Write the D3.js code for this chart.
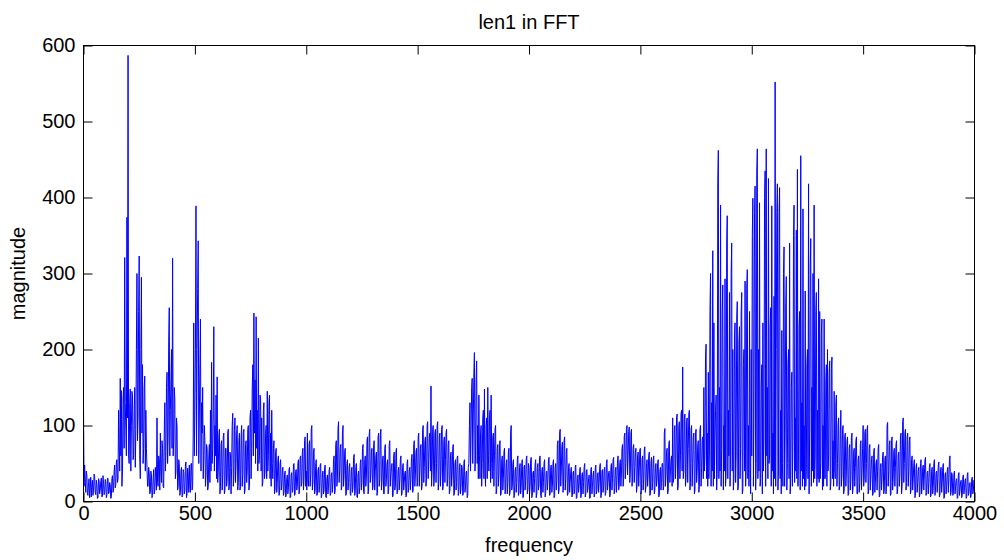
<!DOCTYPE html>
<meta charset="utf-8" />
<head>
  <style>
    body { margin: 0; background: #fff; }
    text { font-family: Arial, "Liberation Sans", sans-serif; fill: #000; }
    .trace { fill: none; stroke: #0000ff; stroke-width: 1; }
    .frame { fill: none; stroke: #000; stroke-width: 1; }
  </style>
  <script src="https://cdn.jsdelivr.net/npm/d3@7"></script>
</head>
<body>
<script>
  // spectrum sampled every 2.5 Hz, 0..4000 Hz (one row = 100 Hz)
  var freqStep = 2.5;
  var magnitude = [
    125,20,48,30,12,40,35,10,8,25,30,5,18,32,6,22,28,8,14,36,33,12,9,28,22,4,5,30,27,10,15,26,31,6,7,34,24,9,12,29,
    26,5,8,31,30,10,12,25,22,4,6,30,34,12,15,40,48,18,22,52,55,25,30,120,75,40,162,60,146,20,40,135,150,70,321,130,95,60,374,110,
    587,60,50,130,148,40,100,145,140,55,60,120,150,45,95,200,300,80,110,250,323,60,30,200,295,90,180,50,70,150,165,40,120,70,45,20,20,45,38,10,
    12,40,35,5,8,30,42,10,15,45,30,15,110,25,20,60,55,15,90,40,25,80,70,20,18,90,130,40,60,150,170,50,85,210,255,60,120,160,200,70,
    320,60,80,150,135,30,40,110,98,15,20,55,50,8,12,40,45,6,8,42,38,10,15,48,52,5,10,44,35,12,48,20,12,50,50,15,20,90,235,60,
    120,200,389,60,200,280,343,50,110,180,240,40,130,90,150,30,60,100,80,20,35,75,70,15,20,60,75,25,120,40,183,50,70,120,230,40,100,60,140,30,
    164,25,40,85,95,10,20,75,80,15,35,85,90,10,15,70,70,20,30,90,95,15,20,65,60,10,45,100,116,20,30,95,110,25,50,90,100,15,25,80,
    90,15,20,85,100,20,35,90,95,10,15,75,80,25,40,95,100,15,20,110,120,30,70,150,180,60,248,90,160,50,243,70,120,40,215,50,60,140,135,40,
    110,20,25,120,130,30,40,90,100,30,145,40,60,130,140,30,90,20,120,50,30,70,80,10,15,65,70,12,25,55,60,8,10,50,55,15,20,40,45,8,
    12,35,40,6,8,30,35,10,18,42,45,5,6,35,38,12,15,48,50,8,10,40,42,15,20,50,55,10,15,58,60,20,25,65,70,15,30,80,85,20,
    40,15,90,25,20,75,80,20,35,95,100,15,25,65,70,10,15,50,55,8,10,40,45,12,20,48,50,5,8,35,40,10,15,45,48,6,5,30,35,10,
    20,40,45,8,10,35,38,12,25,55,60,10,15,75,80,20,30,95,105,25,40,70,75,15,20,90,100,20,35,65,70,8,10,50,55,15,25,45,50,10,
    8,40,45,12,20,58,62,8,12,45,50,6,5,35,40,10,18,50,55,15,25,70,75,12,10,55,60,20,30,80,85,10,15,88,95,25,35,65,70,15,
    20,75,80,15,40,60,65,8,12,85,90,20,30,88,95,15,25,55,60,10,10,70,75,20,30,50,55,10,15,75,80,20,35,45,50,6,8,60,65,15,
    20,65,70,10,12,40,45,15,30,55,60,8,10,45,50,15,25,38,40,6,8,50,55,12,18,40,45,15,30,58,62,12,15,75,80,20,35,65,70,20,
    25,85,90,20,40,70,75,15,20,95,100,25,45,80,85,20,30,100,105,30,55,85,90,40,152,20,40,95,100,20,30,90,95,25,50,100,105,15,25,85,
    90,20,40,95,100,15,20,80,85,25,55,90,95,20,30,75,80,10,15,60,65,20,35,70,75,8,10,50,55,15,25,58,60,8,12,45,50,10,20,48,
    45,8,10,50,55,12,20,38,40,5,8,45,50,100,130,40,90,150,162,50,110,170,196,40,60,160,185,50,100,30,140,60,30,90,100,20,50,110,120,30,
    148,40,20,100,110,30,150,60,40,110,120,25,140,50,30,85,90,20,60,95,100,10,15,70,75,20,35,75,80,8,10,55,60,15,30,65,70,10,15,50,
    55,10,25,65,70,8,12,90,100,15,20,50,55,5,8,40,45,12,25,55,60,8,12,45,50,10,20,50,55,5,6,45,48,15,28,55,60,10,15,50,
    45,10,20,55,58,5,8,38,40,12,30,50,55,5,10,45,50,15,22,58,60,8,5,40,45,12,25,50,55,6,12,38,40,15,30,55,58,8,10,45,
    48,12,20,50,55,5,8,45,50,15,30,75,80,10,15,90,95,20,40,72,78,12,20,80,85,15,30,65,70,8,10,45,50,12,25,40,45,6,8,38,
    40,10,15,45,48,4,5,30,35,12,20,40,45,5,8,35,38,10,25,45,50,6,10,40,42,12,18,30,35,4,5,42,45,10,20,35,40,6,10,44,
    48,10,15,35,38,12,25,45,50,5,8,40,42,12,20,42,45,8,12,50,55,15,25,38,40,6,10,45,50,15,30,55,58,10,15,40,45,12,28,55,
    60,15,20,50,55,20,35,70,75,20,30,85,90,30,50,95,100,35,60,92,98,25,40,90,95,20,30,70,75,25,45,65,70,12,20,60,65,20,40,68,
    70,10,15,55,60,15,30,68,72,12,20,50,55,20,35,60,65,8,10,52,58,15,25,55,60,10,15,45,50,20,30,50,55,6,8,40,45,15,25,50,
    50,15,20,90,96,20,35,65,70,10,15,75,80,25,40,55,60,20,110,25,30,95,100,30,55,110,115,15,20,100,105,30,60,115,120,40,177,30,40,110,
    115,20,30,105,110,25,70,115,120,15,25,95,100,20,50,85,90,10,15,90,95,25,40,75,80,12,20,95,100,20,45,80,85,30,150,40,60,190,207,30,
    90,20,170,30,60,250,300,20,130,40,330,20,235,30,80,120,140,15,40,420,462,30,150,40,390,20,70,250,285,15,100,40,293,20,40,340,376,30,120,60,
    275,20,60,300,340,40,200,15,30,220,235,25,60,240,263,15,20,210,230,30,70,250,275,10,15,180,200,40,290,20,40,280,305,30,100,20,250,60,10,200,
    60,350,399,20,120,380,415,15,50,430,464,30,200,40,393,20,30,150,180,10,235,40,80,400,435,20,464,60,150,30,425,50,60,230,255,20,389,40,90,10,
    270,30,552,20,200,380,418,15,40,380,413,30,120,10,225,50,20,300,335,20,90,260,296,15,50,180,200,30,340,10,30,150,170,20,80,350,390,25,110,40,
    357,30,437,20,60,230,250,15,455,40,130,20,385,30,100,15,277,20,40,180,200,30,418,10,90,310,346,20,150,40,300,25,390,30,60,250,275,20,120,30,
    293,25,250,30,50,220,240,15,100,20,240,30,30,160,180,20,200,40,60,170,185,15,25,175,190,30,80,20,145,40,30,130,140,20,50,100,110,15,20,90,
    120,20,35,95,100,10,15,85,90,20,40,80,85,8,10,70,75,15,30,85,90,10,20,65,70,20,45,80,85,10,10,55,60,12,25,75,80,15,35,70,
    100,20,30,90,95,25,50,95,100,10,15,70,75,15,35,55,60,8,10,65,70,12,25,50,55,15,40,70,75,6,8,45,50,15,30,60,65,10,15,55,
    60,10,20,100,104,20,40,75,80,8,10,80,85,15,30,65,70,20,45,75,80,10,15,60,65,20,35,85,90,10,20,105,110,25,50,90,95,15,25,85,
    90,20,40,80,85,10,15,55,60,15,30,50,55,5,8,45,50,12,25,40,45,6,10,50,55,10,20,45,48,15,35,55,58,8,12,38,40,10,25,45,
    50,6,8,40,45,10,20,50,55,8,15,38,40,12,30,48,52,6,10,40,45,12,25,45,50,4,5,35,38,10,20,40,45,12,30,55,60,8,12,38,
    35,8,10,36,40,10,20,28,30,4,5,34,38,8,15,26,28,5,8,32,35,10,18,28,30,4,6,35,38,8,12,24,25,5,8,30,32,10,15,28,
    22
  ];
  var xTicks = [0, 500, 1000, 1500, 2000, 2500, 3000, 3500, 4000];
  var yTicks = [0, 100, 200, 300, 400, 500, 600];
  var titleText = "len1 in FFT",
    xLabel = "frequency",
    yLabel = "magnitude";

  var width = 1004, height = 560;
  var plotL = 83.5, plotR = 974.5, plotT = 45.5, plotB = 501.5;
  var tickLen = 9;

  var x = d3.scaleLinear().domain([0, 4000]).range([plotL, plotR]);
  var y = d3.scaleLinear().domain([0, 600]).range([plotB, plotT]);

  var svg = d3.select("body").append("svg")
    .attr("width", width)
    .attr("height", height);

  svg.append("defs").append("clipPath").attr("id", "plotclip")
    .append("rect")
    .attr("x", plotL).attr("y", plotT)
    .attr("width", plotR - plotL).attr("height", plotB - plotT);

  var line = d3.line()
    .x(function(d, i) { return x(i * freqStep); })
    .y(function(d) { return y(d); });

  svg.append("path")
    .datum(magnitude)
    .attr("class", "trace")
    .attr("clip-path", "url(#plotclip)")
    .attr("d", line);

  // MATLAB style box, ticks point inward on all four sides
  svg.append("rect")
    .attr("class", "frame")
    .attr("x", plotL).attr("y", plotT)
    .attr("width", plotR - plotL).attr("height", plotB - plotT);

  var fmt = d3.format("d");
  var bAxis = svg.append("g").attr("transform", "translate(0," + plotB + ")")
    .call(d3.axisBottom(x).tickValues(xTicks).tickFormat(fmt).tickSizeInner(-tickLen).tickSizeOuter(0).tickPadding(4));
  var tAxis = svg.append("g").attr("transform", "translate(0," + plotT + ")")
    .call(d3.axisTop(x).tickValues(xTicks).tickSizeInner(-tickLen).tickSizeOuter(0).tickFormat(""));
  var lAxis = svg.append("g").attr("transform", "translate(" + plotL + ",0)")
    .call(d3.axisLeft(y).tickValues(yTicks).tickFormat(fmt).tickSizeInner(-tickLen).tickSizeOuter(0).tickPadding(8));
  var rAxis = svg.append("g").attr("transform", "translate(" + plotR + ",0)")
    .call(d3.axisRight(y).tickValues(yTicks).tickSizeInner(-tickLen).tickSizeOuter(0).tickFormat(""));

  [bAxis, tAxis, lAxis, rAxis].forEach(function(g) {
    g.select(".domain").remove();
    g.selectAll("line").attr("stroke", "#000");
    g.selectAll("text")
      .style("font-family", "Arial, 'Liberation Sans', sans-serif")
      .style("font-size", "20px")
      .attr("fill", "#000");
  });

  svg.append("text")
    .attr("x", (plotL + plotR) / 2).attr("y", 29)
    .attr("text-anchor", "middle")
    .style("font-size", "20px")
    .text(titleText);

  svg.append("text")
    .attr("x", (plotL + plotR) / 2).attr("y", 552)
    .attr("text-anchor", "middle")
    .style("font-size", "20px")
    .text(xLabel);

  svg.append("text")
    .attr("transform", "translate(25," + ((plotT + plotB) / 2) + ") rotate(-90)")
    .attr("text-anchor", "middle")
    .style("font-size", "20px")
    .text(yLabel);
</script>
</body>
